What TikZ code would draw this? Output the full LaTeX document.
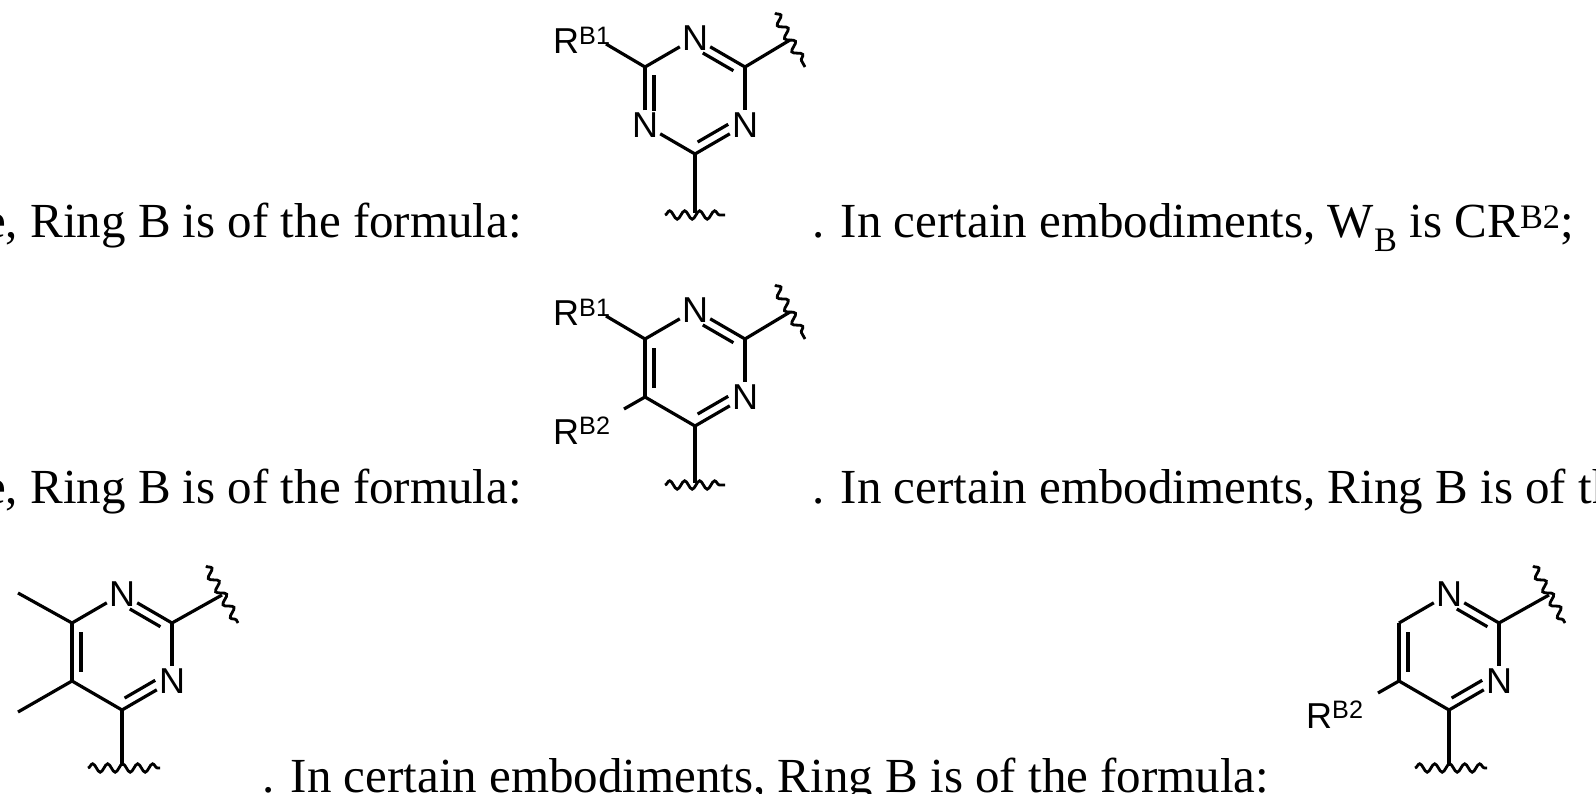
\documentclass[tikz,border=0pt]{standalone}
\usepackage{fontspec}
\setmainfont{Liberation Serif}
\newfontfamily\chemfont{Liberation Sans}
\usetikzlibrary{calc,decorations.pathmorphing}
\tikzset{
  x=1pt,y=-1pt,
  bond/.style={line width=3.2pt,line cap=butt},
  wavy/.style={line width=2.8pt,decorate,decoration={snake,segment length=15pt,amplitude=4.2pt,pre length=0pt,post length=0pt}},
  atom/.style={font=\chemfont\fontsize{36}{40}\selectfont,inner sep=2pt},
  lbl/.style={font=\chemfont\fontsize{36}{40}\selectfont,inner sep=0pt,anchor=base west},
  txt/.style={font=\fontsize{49}{56}\selectfont,inner sep=0pt}
}
\newcommand\innerbond[5]{\draw[bond,shorten <=#4,shorten >=#5] ($(#1)!0.82!(#2)$) -- ($(#1)!0.82!(#3)$);}
\begin{document}
\begin{tikzpicture}
\useasboundingbox (0,0) rectangle (1596,794);
\clip (0,0) rectangle (1596,794);
% ---------- text ----------
\node[txt,anchor=base east] (t1l) at (522,238) {e, Ring B is of the formula:};
\node[txt,anchor=base west] (t1r) at (812,238) {. In certain embodiments, W\textsubscript{B} is CR\textsuperscript{B2};};
\node[txt,anchor=base east] (t2l) at (522,503) {e, Ring B is of the formula:};
\node[txt,anchor=base west] (t2r) at (812,503) {. In certain embodiments, Ring B is of the formula:};
\node[txt,anchor=base west] (t3) at (262,792) {. In certain embodiments, Ring B is of the formula:};
% ---------- molecule 1: triazine ----------
\coordinate (c1) at (695,96);
\node[atom] (a1t) at (695,38) {N};
\coordinate (a1tr) at (745,67);
\node[atom] (a1br) at (745,125) {N};
\coordinate (a1b) at (695,154);
\node[atom] (a1bl) at (645,125) {N};
\coordinate (a1tl) at (645,67);
\draw[bond] (a1tl) -- (a1t);
\draw[bond] (a1t) -- (a1tr);
\draw[bond] (a1tr) -- (a1br);
\draw[bond] (a1br) -- (a1b);
\draw[bond] (a1b) -- (a1bl);
\draw[bond] (a1bl) -- (a1tl);
\innerbond{c1}{a1t}{a1tr}{9pt}{3pt}
\innerbond{c1}{a1br}{a1b}{9pt}{3pt}
\innerbond{c1}{a1bl}{a1tl}{9pt}{3pt}
\node[lbl] (a1r) at (553,54) {R\textsuperscript{B1}};
\coordinate (a1re) at (606,44);
\draw[bond] (a1tl) -- (a1re);
\coordinate (a1w) at (790,40);
\draw[bond] (a1tr) -- (a1w);
\coordinate (a1w1) at (775,13);
\coordinate (a1w2) at (805,67);
\draw[wavy] (a1w1) -- (a1w2);
\coordinate (a1s) at (695,213);
\draw[bond] (a1b) -- (a1s);
\coordinate (a1s1) at (665,215);
\coordinate (a1s2) at (725,215);
\draw[wavy] (a1s1) -- (a1s2);
% ---------- molecule 2 ----------
\coordinate (c2) at (695,368);
\node[atom] (a2t) at (695,310) {N};
\coordinate (a2tr) at (745,339);
\node[atom] (a2br) at (745,397) {N};
\coordinate (a2b) at (695,426);
\coordinate (a2bl) at (645,397);
\coordinate (a2tl) at (645,339);
\draw[bond] (a2tl) -- (a2t);
\draw[bond] (a2t) -- (a2tr);
\draw[bond] (a2tr) -- (a2br);
\draw[bond] (a2br) -- (a2b);
\draw[bond] (a2b) -- (a2bl);
\draw[bond] (a2bl) -- (a2tl);
\innerbond{c2}{a2t}{a2tr}{9pt}{3pt}
\innerbond{c2}{a2br}{a2b}{9pt}{3pt}
\innerbond{c2}{a2bl}{a2tl}{4pt}{4pt}
\node[lbl] (a2r) at (553,326) {R\textsuperscript{B1}};
\coordinate (a2re) at (606,316);
\draw[bond] (a2tl) -- (a2re);
\node[lbl] (a2r2) at (553,444) {R\textsuperscript{B2}};
\coordinate (a2r2e) at (624,409);
\draw[bond] (a2bl) -- (a2r2e);
\coordinate (a2w) at (790,312);
\draw[bond] (a2tr) -- (a2w);
\coordinate (a2w1) at (775,285);
\coordinate (a2w2) at (805,339);
\draw[wavy] (a2w1) -- (a2w2);
\coordinate (a2s) at (695,483);
\draw[bond] (a2b) -- (a2s);
\coordinate (a2s1) at (665,485);
\coordinate (a2s2) at (725,485);
\draw[wavy] (a2s1) -- (a2s2);
% ---------- molecule 3 ----------
\coordinate (c3) at (122,652);
\node[atom] (a3t) at (122,594) {N};
\coordinate (a3tr) at (172,623);
\node[atom] (a3br) at (172,681) {N};
\coordinate (a3b) at (122,710);
\coordinate (a3bl) at (72,681);
\coordinate (a3tl) at (72,623);
\draw[bond] (a3tl) -- (a3t);
\draw[bond] (a3t) -- (a3tr);
\draw[bond] (a3tr) -- (a3br);
\draw[bond] (a3br) -- (a3b);
\draw[bond] (a3b) -- (a3bl);
\draw[bond] (a3bl) -- (a3tl);
\innerbond{c3}{a3t}{a3tr}{9pt}{3pt}
\innerbond{c3}{a3br}{a3b}{9pt}{3pt}
\innerbond{c3}{a3bl}{a3tl}{4pt}{4pt}
\coordinate (a3m1) at (18,593);
\coordinate (a3m2) at (18,712);
\draw[bond] (a3tl) -- (a3m1);
\draw[bond] (a3bl) -- (a3m2);
\coordinate (a3w) at (222,595);
\draw[bond] (a3tr) -- (a3w);
\coordinate (a3w1) at (206,566);
\coordinate (a3w2) at (238,623);
\draw[wavy] (a3w1) -- (a3w2);
\coordinate (a3s) at (122,766);
\draw[bond] (a3b) -- (a3s);
\coordinate (a3s1) at (88,768);
\coordinate (a3s2) at (160,768);
\draw[wavy] (a3s1) -- (a3s2);
% ---------- molecule 4 ----------
\coordinate (c4) at (1449,652);
\node[atom] (a4t) at (1449,594) {N};
\coordinate (a4tr) at (1499,623);
\node[atom] (a4br) at (1499,681) {N};
\coordinate (a4b) at (1449,710);
\coordinate (a4bl) at (1399,681);
\coordinate (a4tl) at (1399,623);
\draw[bond] (a4tl) -- (a4t);
\draw[bond] (a4t) -- (a4tr);
\draw[bond] (a4tr) -- (a4br);
\draw[bond] (a4br) -- (a4b);
\draw[bond] (a4b) -- (a4bl);
\draw[bond] (a4bl) -- (a4tl);
\innerbond{c4}{a4t}{a4tr}{9pt}{3pt}
\innerbond{c4}{a4br}{a4b}{9pt}{3pt}
\innerbond{c4}{a4bl}{a4tl}{4pt}{4pt}
\node[lbl] (a4r2) at (1306,728) {R\textsuperscript{B2}};
\coordinate (a4r2e) at (1378,693);
\draw[bond] (a4bl) -- (a4r2e);
\coordinate (a4w) at (1549,595);
\draw[bond] (a4tr) -- (a4w);
\coordinate (a4w1) at (1533,566);
\coordinate (a4w2) at (1565,623);
\draw[wavy] (a4w1) -- (a4w2);
\coordinate (a4s) at (1449,766);
\draw[bond] (a4b) -- (a4s);
\coordinate (a4s1) at (1415,768);
\coordinate (a4s2) at (1487,768);
\draw[wavy] (a4s1) -- (a4s2);
\end{tikzpicture}
\end{document}
